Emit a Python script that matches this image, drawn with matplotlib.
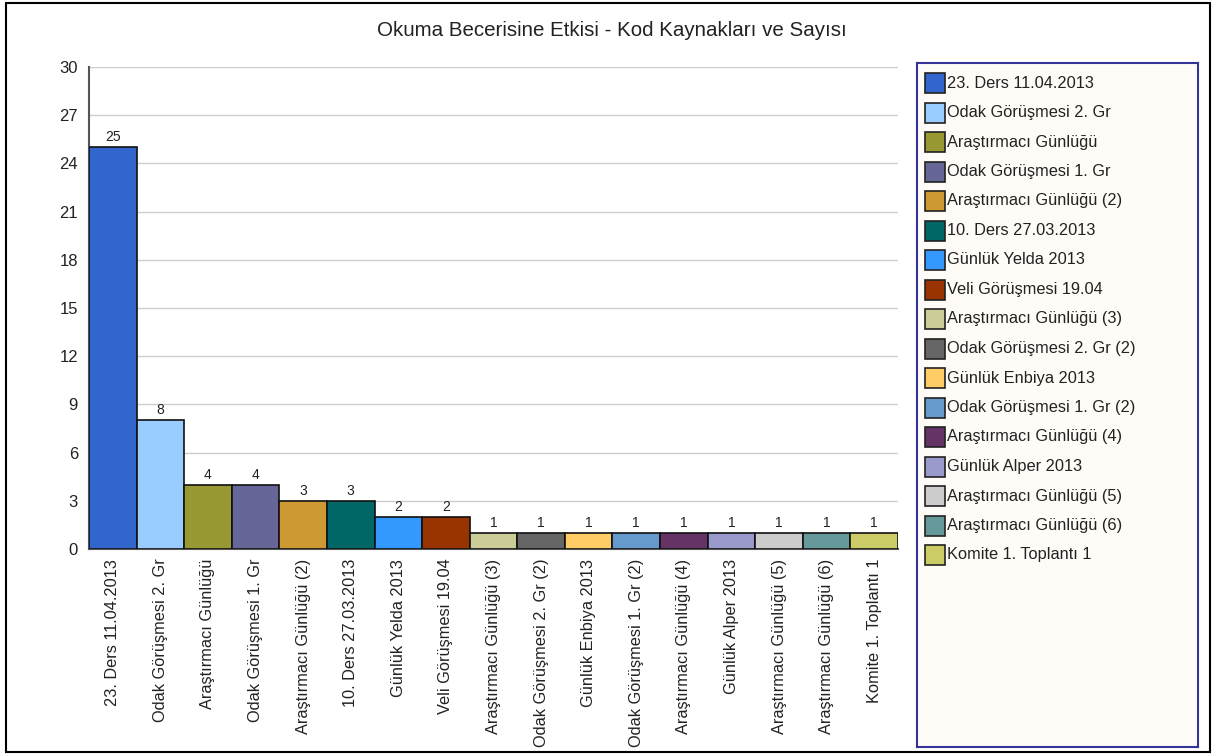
import matplotlib
matplotlib.use("Agg")
import matplotlib.pyplot as plt
from matplotlib.patches import Rectangle

categories = [
    "23. Ders 11.04.2013", "Odak Görüşmesi 2. Gr", "Araştırmacı Günlüğü",
    "Odak Görüşmesi 1. Gr", "Araştırmacı Günlüğü (2)", "10. Ders 27.03.2013",
    "Günlük Yelda 2013", "Veli Görüşmesi 19.04", "Araştırmacı Günlüğü (3)",
    "Odak Görüşmesi 2. Gr (2)", "Günlük Enbiya 2013", "Odak Görüşmesi 1. Gr (2)",
    "Araştırmacı Günlüğü (4)", "Günlük Alper 2013", "Araştırmacı Günlüğü (5)",
    "Araştırmacı Günlüğü (6)", "Komite 1. Toplantı 1",
]
values = [25, 8, 4, 4, 3, 3, 2, 2, 1, 1, 1, 1, 1, 1, 1, 1, 1]
colors = [
    "#3366CC", "#99CCFF", "#999933", "#666699", "#CC9933", "#006666",
    "#3399FF", "#993300", "#CCCC99", "#666666", "#FFCC66", "#6699CC",
    "#663366", "#9999CC", "#CCCCCC", "#669999", "#CCCC66",
]
yticks = [0, 3, 6, 9, 12, 15, 18, 21, 24, 27, 30]
title = "Okuma Becerisine Etkisi - Kod Kaynakları ve Sayısı"

plt.rcParams['font.family'] = ['Liberation Sans', 'DejaVu Sans']

W, H = 1212, 756
fig = plt.figure(figsize=(W / 100, H / 100), dpi=100)

# outer frame
fig.patches.append(Rectangle((6 / W, 1 - 752 / H), (1210 - 6) / W, (752 - 3) / H,
                             transform=fig.transFigure, fill=False,
                             edgecolor="black", linewidth=1.5))

ax = fig.add_axes([89 / W, 1 - 549 / H, (898 - 89) / W, (549 - 67) / H])
x = list(range(len(categories)))
ax.bar(x, values, width=1.0, color=colors, edgecolor="#111111",
       linewidth=1.2, zorder=3)
for xi, v in zip(x, values):
    ax.text(xi, v + 0.2, str(v), ha="center", va="bottom", fontsize=10,
            color="#222222", zorder=4)

ax.set_xlim(-0.5, len(categories) - 0.5)
ax.set_ylim(0, 30)
ax.set_yticks(yticks)
ax.set_yticklabels([str(t) for t in yticks], fontsize=12, color="#222222")
ax.set_xticks(x)
ax.set_xticklabels(categories, rotation=90, fontsize=11.8, color="#222222",
                   va="top", ha="center")
ax.tick_params(axis="both", length=0, pad=7)
ax.tick_params(axis="y", pad=8)
ax.yaxis.grid(True, color="#CCCCCC", linewidth=1, zorder=0)
ax.set_axisbelow(True)
for s in ["top", "right"]:
    ax.spines[s].set_visible(False)
ax.spines["left"].set_color("#555555")
ax.spines["bottom"].set_color("#555555")
ax.spines["left"].set_linewidth(1.5)
ax.spines["bottom"].set_linewidth(1.5)

fig.text(612 / W, 1 - 31 / H, title, ha="center", va="center", fontsize=14.8,
         color="#222222")

# legend box
lx0, ly0, lx1, ly1 = 917, 63, 1198, 747
lax = fig.add_axes([lx0 / W, 1 - ly1 / H, (lx1 - lx0) / W, (ly1 - ly0) / H])
lax.set_xlim(lx0, lx1)
lax.set_ylim(ly1, ly0)
lax.set_xticks([])
lax.set_yticks([])
lax.set_facecolor("#FFFCF7")
for s in lax.spines.values():
    s.set_color("#333399")
    s.set_linewidth(1.5)
for i, (c, lab) in enumerate(zip(colors, categories)):
    yc = 83 + i * 29.5
    lax.add_patch(Rectangle((925, yc - 10), 20, 20, facecolor=c,
                            edgecolor="#222222", linewidth=1.2))
    lax.text(947, yc, lab, ha="left", va="center", fontsize=11.8, color="#222222")

fig.savefig("out.png", dpi=100)
